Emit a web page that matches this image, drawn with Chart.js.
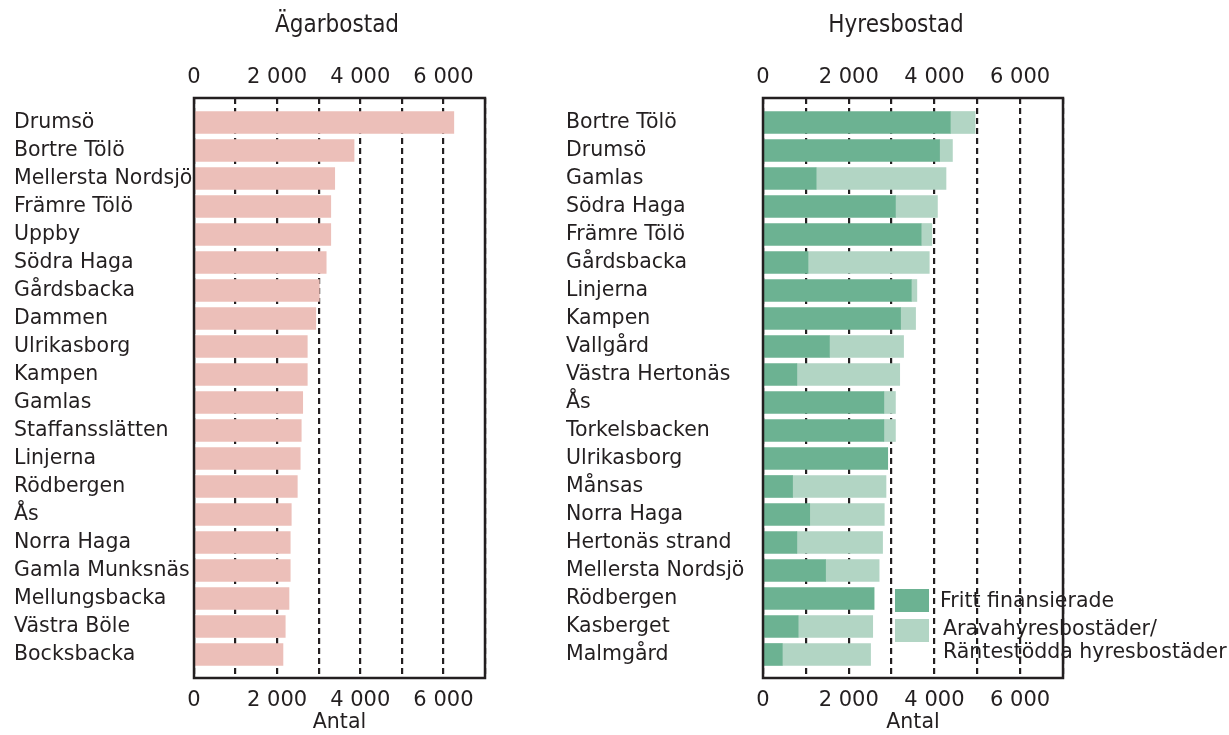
<!DOCTYPE html>
<html><head><meta charset="utf-8">
<script src="https://cdn.jsdelivr.net/npm/chart.js@4"></script>
<style>
html,body{margin:0;padding:0;background:#fff;width:1229px;height:735px;overflow:hidden;position:relative;}
canvas{position:absolute;top:0;}
#cL{left:0;} #cR{left:552px;}
.lgt{position:absolute;font:20.5px "DejaVu Sans",Verdana,sans-serif;color:#231f20;line-height:23px;white-space:pre;}
.sw{position:absolute;width:34px;height:23px;}
</style></head><body>
<canvas id="cL" width="674" height="735"></canvas>
<canvas id="cR" width="677" height="735"></canvas>
<div id="legend"></div>
<script>
const ownerTitle = 'Ägarbostad';
const rentalTitle = 'Hyresbostad';
const axisTitle = 'Antal';

const ownerCategories = ['Drumsö','Bortre Tölö','Mellersta Nordsjö','Främre Tölö','Uppby','Södra Haga','Gårdsbacka','Dammen','Ulrikasborg','Kampen','Gamlas','Staffansslätten','Linjerna','Rödbergen','Ås','Norra Haga','Gamla Munksnäs','Mellungsbacka','Västra Böle','Bocksbacka'];
const ownerValues = [6250,3850,3385,3290,3290,3180,3015,2930,2725,2725,2615,2580,2555,2485,2340,2315,2315,2285,2195,2140];

const rentalCategories = ['Bortre Tölö','Drumsö','Gamlas','Södra Haga','Främre Tölö','Gårdsbacka','Linjerna','Kampen','Vallgård','Västra Hertonäs','Ås','Torkelsbacken','Ulrikasborg','Månsas','Norra Haga','Hertonäs strand','Mellersta Nordsjö','Rödbergen','Kasberget','Malmgård'];
const rentalFreeValues = [4370,4120,1240,3090,3690,1050,3460,3210,1550,790,2820,2820,2910,690,1090,790,1460,2590,820,450];
const rentalSubsidizedValues = [580,300,3030,980,250,2830,130,350,1730,2400,270,270,0,2180,1740,2000,1250,0,1740,2060];

const seriesNames = ['Fritt finansierade','Aravahyresbostäder/\nRäntestödda hyresbostäder'];

const xTickValues = [0,2000,4000,6000];
const xTickLabels = ['0','2 000','4 000','6 000'];
const xGridValues = [0,1000,2000,3000,4000,5000,6000,7000];

const INK = '#231f20';
const FONT = "'DejaVu Sans', Verdana, sans-serif";
const TITLE_FONT = "'DejaVu Sans Condensed', 'DejaVu Sans', sans-serif";

const framePlugin = {
  id: 'frame',
  afterDatasetsDraw(chart) {
    const {ctx, chartArea: a} = chart;
    ctx.save();
    ctx.strokeStyle = INK;
    ctx.lineWidth = 2.5;
    ctx.strokeRect(a.left, a.top, a.right - a.left, a.bottom - a.top);
    ctx.restore();
  }
};

function xLabel(v) {
  const i = xTickValues.indexOf(v);
  return i >= 0 ? xTickLabels[i] : '';
}

function makeOptions(categories, title, yWidth, spacerWidth, padRight, stacked) {
  const f = {family: FONT, size: 20.5};
  const ft = {family: FONT, size: 21};
  return {
    responsive: false,
    animation: false,
    devicePixelRatio: 1,
    indexAxis: 'y',
    layout: {padding: {left: 14, right: padRight, top: 0, bottom: 0}},
    plugins: {
      legend: {display: false},
      tooltip: {enabled: false},
      title: {display: true, text: title, color: INK,
        font: {family: TITLE_FONT, size: 24, weight: 'normal'},
        padding: {top: 11, bottom: 0}}
    },
    scales: {
      x: {
        type: 'linear', position: 'bottom', min: 0, max: 7000, stacked: stacked,
        afterBuildTicks: s => { s.ticks = xGridValues.map(v => ({value: v})); },
        afterFit: s => { s.height = 57; },
        grid: {display: true, drawOnChartArea: true, drawTicks: false, color: INK, lineWidth: 2.2},
        border: {display: false, dash: [6, 4]},
        ticks: {font: ft, color: INK, padding: 10, maxRotation: 0, autoSkip: false, callback: v => xLabel(v)},
        title: {display: true, text: axisTitle, font: f, color: INK, padding: {top: 0, bottom: 0}}
      },
      x2: {
        type: 'linear', position: 'top', min: 0, max: 7000,
        afterBuildTicks: s => { s.ticks = xGridValues.map(v => ({value: v})); },
        afterFit: s => { s.height = 58.2; },
        grid: {display: false, drawTicks: false},
        border: {display: false},
        ticks: {font: ft, color: INK, padding: 8, maxRotation: 0, autoSkip: false, callback: v => xLabel(v)}
      },
      y: {
        type: 'linear', position: 'left', reverse: true, stacked: stacked, offset: false,
        min: -0.875, max: categories.length - 1 + 0.84,
        afterBuildTicks: s => { s.ticks = categories.map((_, i) => ({value: i})); },
        afterFit: s => { s.width = yWidth; },
        grid: {display: false, drawTicks: false, offset: false},
        border: {display: false},
        ticks: {font: f, color: INK, crossAlign: 'far', padding: 0, autoSkip: false,
          callback: v => categories[v] !== undefined ? categories[v] : ''}
      },
      spacer: {
        type: 'linear', position: 'right', display: true,
        afterFit: s => { s.width = spacerWidth; },
        grid: {display: false, drawTicks: false},
        border: {display: false},
        ticks: {display: false}
      }
    }
  };
}

const chartL = new Chart(document.getElementById('cL'), {
  type: 'bar',
  data: {
    datasets: [{
      label: ownerTitle,
      data: ownerValues.map((v, i) => ({x: v, y: i})),
      backgroundColor: '#ecbfb9',
      barThickness: 22,
      xAxisID: 'x', yAxisID: 'y'
    }]
  },
  options: makeOptions(ownerCategories, ownerTitle, 180, 175, 14, false),
  plugins: [framePlugin]
});

const chartR = new Chart(document.getElementById('cR'), {
  type: 'bar',
  data: {
    datasets: [{
      label: seriesNames[0],
      data: rentalFreeValues.map((v, i) => ({x: v, y: i})),
      backgroundColor: '#6cb292',
      barThickness: 22,
      xAxisID: 'x', yAxisID: 'y'
    }, {
      label: seriesNames[1],
      data: rentalSubsidizedValues.map((v, i) => ({x: v, y: i})),
      backgroundColor: '#b2d5c4',
      barThickness: 22,
      xAxisID: 'x', yAxisID: 'y'
    }]
  },
  options: makeOptions(rentalCategories, rentalTitle, 197, 163, 3, true),
  plugins: [framePlugin]
});

// HTML legend built from the chart's datasets
const lg = document.getElementById('legend');
chartR.data.datasets.forEach((ds, i) => {
  const sw = document.createElement('div');
  sw.className = 'sw';
  sw.style.left = '895px';
  sw.style.top = (589 + i * 30) + 'px';
  sw.style.background = ds.backgroundColor;
  lg.appendChild(sw);
  const t = document.createElement('div');
  t.className = 'lgt';
  t.style.left = (940 + i * 3) + 'px';
  t.style.top = (589 + i * 28) + 'px';
  t.textContent = ds.label;
  lg.appendChild(t);
});
</script>
</body></html>
